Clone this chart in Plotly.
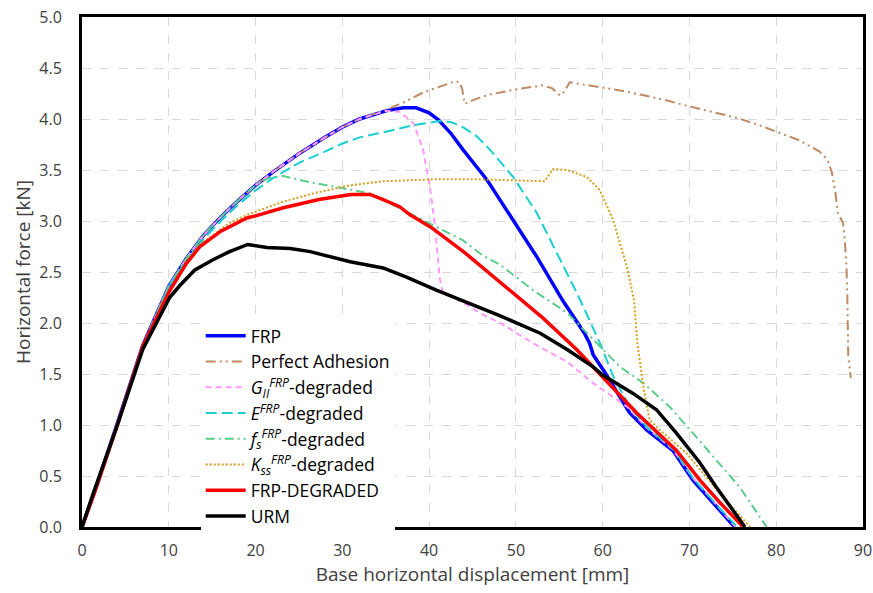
import plotly.graph_objects as go

# ---------------- data ----------------
frp_x = [0, 1.5, 4, 7, 10, 11.3, 12, 14, 16, 18, 20, 22, 25, 28, 30, 32, 35, 37, 38.5, 40, 41.1, 42.5, 43.9, 46.7, 49.7, 52.4, 55.4, 57.9, 58.5, 58.9, 60.3, 63.1, 65.1, 68.1, 70.4, 73.1, 75.2]
frp_y = [0, 0.36, 1.0, 1.78, 2.36, 2.54, 2.63, 2.86, 3.04, 3.20, 3.35, 3.48, 3.66, 3.82, 3.92, 4.0, 4.08, 4.11, 4.11, 4.06, 3.99, 3.86, 3.70, 3.40, 3.01, 2.65, 2.22, 1.90, 1.80, 1.69, 1.51, 1.12, 0.95, 0.75, 0.46, 0.20, 0]

pa_x = [0, 1.5, 4, 7, 10, 11.3, 12, 14, 16, 18, 20, 22, 25, 28, 30, 32, 35, 37, 39.3, 41, 43, 43.5, 43.8, 44.1, 45.5, 47, 50, 53.1, 54.2, 55.1, 55.6, 56.2, 59.3, 62, 64.3, 67, 69.7, 72.5, 75.5, 78, 80.6, 82.7, 85, 85.9, 86.4, 86.8, 87.1, 87.7, 87.9, 88.1, 88.2, 88.3, 88.6]
pa_y = [0, 0.36, 1.0, 1.78, 2.36, 2.54, 2.63, 2.86, 3.04, 3.20, 3.35, 3.48, 3.66, 3.82, 3.92, 4.0, 4.09, 4.16, 4.26, 4.31, 4.37, 4.36, 4.30, 4.15, 4.20, 4.24, 4.29, 4.33, 4.30, 4.23, 4.27, 4.36, 4.32, 4.28, 4.24, 4.19, 4.13, 4.07, 4.01, 3.94, 3.86, 3.79, 3.68, 3.60, 3.48, 3.29, 3.08, 2.98, 2.81, 2.55, 2.23, 1.67, 1.46]

g_x = [0, 1.5, 4, 7, 10, 11.3, 12, 14, 16, 18, 20, 22, 25, 28, 30, 32, 35, 36.6, 38.2, 39.3, 40.1, 40.7, 41.2, 41.6, 42.4, 44.5, 46, 48.2, 52, 55.9, 58.9, 62.8, 65.1, 68.1, 70.4, 73.1, 75.3]
g_y = [0, 0.36, 1.0, 1.78, 2.36, 2.54, 2.63, 2.86, 3.04, 3.20, 3.35, 3.48, 3.66, 3.82, 3.92, 4.0, 4.08, 4.07, 3.96, 3.70, 3.33, 2.94, 2.45, 2.29, 2.27, 2.17, 2.09, 2.00, 1.80, 1.62, 1.41, 1.18, 0.97, 0.76, 0.48, 0.22, 0]

e_x = [0, 1.5, 4, 7, 10, 11.3, 12, 14, 16, 18, 20, 22, 25, 28, 30, 32, 34.8, 38.2, 41.2, 42.5, 43.9, 45.5, 47, 49.7, 52.4, 55.1, 57, 58.2, 59.7, 60.5, 61.2, 63.1, 65.1, 68.3, 70.4, 73, 75.5]
e_y = [0, 0.36, 1.0, 1.78, 2.36, 2.53, 2.61, 2.82, 3.0, 3.16, 3.30, 3.42, 3.57, 3.68, 3.76, 3.82, 3.87, 3.94, 3.98, 3.97, 3.92, 3.83, 3.70, 3.43, 3.08, 2.62, 2.30, 2.08, 1.80, 1.63, 1.48, 1.18, 0.98, 0.75, 0.48, 0.23, 0]

f_x = [0, 1.5, 4, 7, 10, 11.3, 12, 14, 16, 18, 20, 21.5, 23.2, 26.3, 29.4, 33.2, 36.5, 39.8, 43.9, 46.2, 48.2, 52, 55.9, 58.9, 62, 64.7, 67.7, 70.4, 73.1, 75.8, 78.9]
f_y = [0, 0.36, 1.0, 1.78, 2.36, 2.54, 2.63, 2.86, 3.04, 3.20, 3.35, 3.42, 3.44, 3.38, 3.33, 3.27, 3.13, 2.99, 2.81, 2.66, 2.57, 2.32, 2.10, 1.84, 1.57, 1.41, 1.18, 0.92, 0.66, 0.39, 0]

k_x = [0, 1.5, 4, 7, 10, 12, 13.6, 17, 19, 23.2, 27.1, 30.9, 34.8, 40.9, 45, 49.7, 53.3, 54.3, 55.9, 58.2, 59.7, 61.2, 62.3, 62.8, 63.6, 64, 64.7, 65.4, 66.6, 69.7, 73.5, 77]
k_y = [0, 0.35, 0.98, 1.77, 2.31, 2.60, 2.77, 2.98, 3.06, 3.19, 3.28, 3.35, 3.39, 3.41, 3.41, 3.40, 3.39, 3.51, 3.50, 3.43, 3.30, 3.01, 2.70, 2.55, 2.23, 1.80, 1.37, 1.05, 0.95, 0.72, 0.33, 0]

red_x = [0, 1.5, 4, 7, 10, 12, 13.6, 16, 19, 20, 23.2, 27.3, 31, 33.2, 34.7, 36.6, 37.8, 40.2, 44.1, 48.2, 53.1, 57, 60, 63.9, 68.5, 71.2, 73.5, 76.2]
red_y = [0, 0.35, 0.98, 1.77, 2.30, 2.58, 2.75, 2.90, 3.03, 3.05, 3.13, 3.21, 3.26, 3.26, 3.21, 3.14, 3.06, 2.94, 2.69, 2.40, 2.05, 1.74, 1.47, 1.12, 0.75, 0.46, 0.24, 0]

urm_x = [0, 1.3, 4, 7, 10.1, 11.3, 13, 15.1, 17, 19.1, 21.3, 24, 26.3, 28, 30.9, 34.7, 37.4, 40.9, 44.7, 48.2, 52.8, 55.9, 58.9, 60, 63.5, 66.2, 68.5, 71.2, 73.1, 75, 76.4]
urm_y = [0, 0.33, 0.98, 1.74, 2.25, 2.37, 2.52, 2.62, 2.70, 2.77, 2.74, 2.73, 2.70, 2.66, 2.60, 2.54, 2.45, 2.32, 2.19, 2.07, 1.90, 1.74, 1.57, 1.49, 1.31, 1.15, 0.92, 0.63, 0.39, 0.17, 0]

names = [
    "FRP",
    "Perfect Adhesion",
    "<i>G</i><sub><i>II</i></sub><sup><i>FRP</i></sup>-degraded",
    "<i>E</i><sup><i>FRP</i></sup>-degraded",
    "<i>f</i><sub><i>s</i></sub><sup><i>FRP</i></sup>-degraded",
    "<i>K</i><sub><i>ss</i></sub><sup><i>FRP</i></sup>-degraded",
    "FRP-DEGRADED",
    "URM",
]

# ---------------- figure ----------------
fig = go.Figure()
series = [
    (frp_x, frp_y, "#0000FF", 3.5, "solid"),
    (pa_x, pa_y, "#C08A64", 2, "10px,4px,2px,4px,2px,4px"),
    (g_x, g_y, "#FF99FF", 2, "6px,4px"),
    (e_x, e_y, "#1ACFCF", 2, "11px,5px"),
    (f_x, f_y, "#5CCC8C", 2, "9px,4px,2px,4px"),
    (k_x, k_y, "#D4A020", 2, "2px,2px"),
    (red_x, red_y, "#FF0000", 3.5, "solid"),
    (urm_x, urm_y, "#000000", 3.5, "solid"),
]
for (xs, ys, col, w, dash), nm in zip(series, names):
    fig.add_trace(go.Scatter(x=xs, y=ys, mode="lines", name=nm,
                             line=dict(color=col, width=w, dash=dash)))

font_family = "Open Sans, Noto Sans, sans-serif"
fig.update_layout(
    width=873, height=593,
    margin=dict(l=82, r=10, t=17, b=66, autoexpand=False),
    paper_bgcolor="white", plot_bgcolor="white",
    font=dict(family=font_family, color="#404040", size=16),
    showlegend=True,
    legend=dict(x=0.152, y=0.41, xanchor="left", yanchor="top",
                bgcolor="white", borderwidth=0,
                font=dict(size=17.5, color="#000000", family=font_family),
                tracegroupgap=0, itemwidth=40),
)
fig.update_xaxes(
    range=[0, 90], dtick=10, tick0=0, automargin=False,
    showline=True, linecolor="black", linewidth=3, mirror=True,
    showgrid=True, gridcolor="#d9d9d9", griddash="dash", gridwidth=1,
    zeroline=False, ticks="outside", ticklen=7, tickcolor="rgba(0,0,0,0)",
    tickfont=dict(size=16, color="#404040"),
    title=dict(text="Base horizontal displacement [mm]", font=dict(size=19, color="#404040"), standoff=8),
)
fig.update_yaxes(
    range=[0, 5], dtick=0.5, tick0=0, tickformat=".1f", automargin=False,
    showline=True, linecolor="black", linewidth=3, mirror=True,
    showgrid=True, gridcolor="#d9d9d9", griddash="dash", gridwidth=1,
    zeroline=False, ticks="outside", ticklen=14, tickcolor="rgba(0,0,0,0)",
    tickfont=dict(size=16, color="#404040"),
    title=dict(text="Horizontal force [kN]", font=dict(size=19, color="#404040"), standoff=4),
)

fig.write_html("out.html")
